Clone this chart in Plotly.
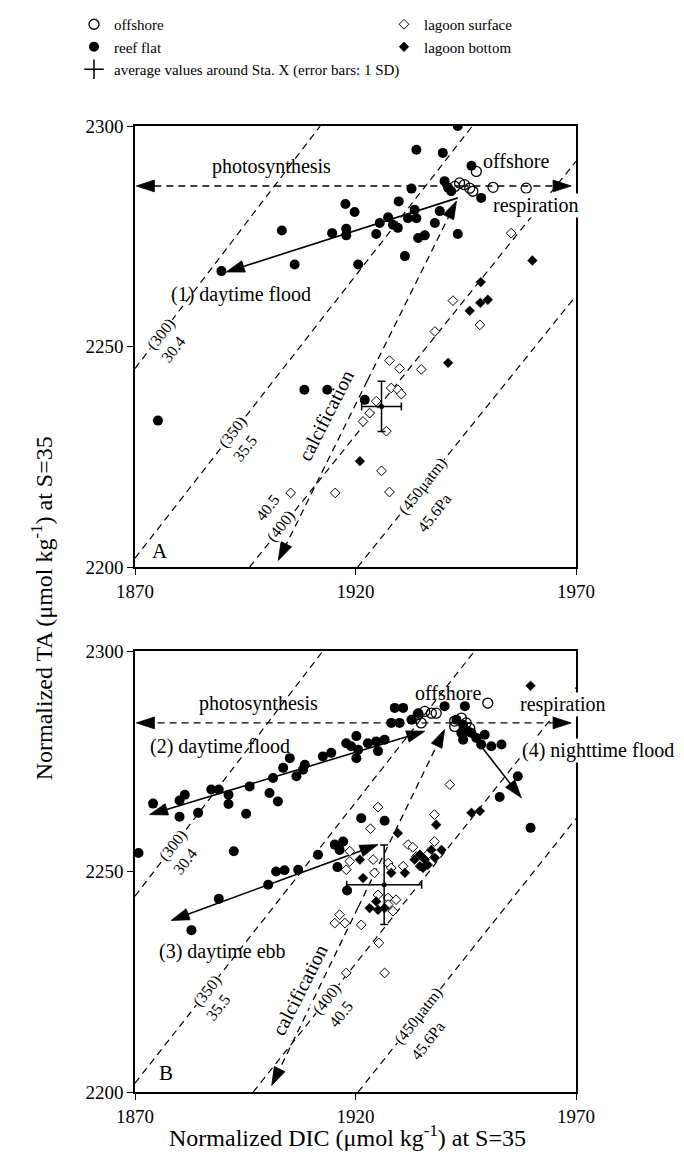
import plotly.graph_objects as go

FONT = "Liberation Serif"
INK = "black"

# ---------------- axis ticks ----------------
x_ticks = [1870, 1920, 1970]
y_ticks = [2200, 2250, 2300]

# ---------------- panel A data ----------------
A_offshore_x = [1947.4, 1951.2, 1958.7, 1943.6, 1944.7, 1945.9, 1946.6, 1942.5]
A_offshore_y = [2289.7, 2286.1, 2285.9, 2287.1, 2286.7, 2285.9, 2285.2, 2286.3]

A_reef_x = [1917.7, 1919.8, 1903.3, 1914.7, 1917.9, 1917.9, 1906.2, 1889.6, 1920.6,
            1943.2, 1933.8, 1939.8, 1946.3, 1940.2, 1932.7, 1929.8, 1925.5, 1927.4,
            1928.5, 1929.6, 1931.9, 1933.4, 1933.8, 1939.1, 1938.0, 1924.7, 1934.2,
            1935.7, 1943.2, 1931.2, 1948.5, 1941.0, 1941.7,
            1875.2, 1908.4, 1913.6, 1922.1]
A_reef_y = [2282.3, 2280.5, 2276.3, 2275.7, 2276.7, 2275.2, 2268.6, 2267.1, 2268.6,
            2300.0, 2294.6, 2293.9, 2291.0, 2287.5, 2285.8, 2282.9, 2278.0, 2279.3,
            2277.6, 2276.9, 2279.1, 2281.0, 2279.1, 2280.7, 2278.0, 2275.5, 2274.6,
            2275.2, 2275.5, 2270.5, 2283.7, 2286.0, 2285.2,
            2233.2, 2240.2, 2240.2, 2237.9]

A_lsurf_x = [1955.3, 1942.1, 1948.2, 1938.0, 1927.7, 1930.0, 1934.9, 1928.1, 1929.6,
             1930.4, 1924.7, 1923.2, 1921.7, 1927.0, 1925.9, 1927.7, 1905.3, 1915.4]
A_lsurf_y = [2275.7, 2260.4, 2254.9, 2253.4, 2246.8, 2245.0, 2244.8, 2240.6, 2240.2,
             2239.2, 2237.6, 2234.9, 2233.0, 2230.8, 2221.8, 2217.0, 2216.8, 2216.8]

A_lbot_x = [1960.1, 1948.4, 1950.0, 1948.3, 1945.9, 1941.0, 1921.0]
A_lbot_y = [2269.5, 2264.6, 2260.6, 2259.9, 2258.1, 2246.3, 2224.0]

A_stax_x, A_stax_y = [1925.9], [2236.4]
A_stax_sdx, A_stax_sdy = [4.5], [5.7]

# ---------------- panel B data ----------------
B_offshore_x = [1950.0, 1934.2, 1935.7, 1937.2, 1934.9, 1938.3, 1942.5, 1944.0, 1945.1,
                1945.9, 1942.5]
B_offshore_y = [2288.2, 2285.6, 2286.3, 2285.9, 2283.7, 2285.9, 2284.1, 2284.8, 2283.7,
                2282.5, 2282.9]

B_reef_x = [1874.1, 1880.1, 1881.3, 1880.1, 1884.3, 1887.3, 1889.0, 1891.2, 1891.2,
            1895.2, 1896.0, 1900.5, 1902.4, 1901.3, 1903.6, 1905.1, 1906.6, 1908.1,
            1908.5, 1912.6, 1914.5, 1917.9, 1919.0, 1920.2, 1920.2,
            1870.8, 1892.4, 1911.5, 1907.0, 1902.0, 1903.9, 1900.2, 1889.0, 1882.8,
            1915.9, 1918.1,
            1928.9, 1930.8, 1928.1, 1930.0, 1932.7, 1934.2, 1940.2, 1944.8,
            1942.9, 1944.4, 1945.5, 1944.0, 1946.3, 1944.4, 1947.4, 1948.5, 1949.3,
            1950.8, 1953.1, 1922.8, 1924.7, 1926.6, 1920.6, 1925.1,
            1956.8, 1952.7, 1959.7, 1921.3, 1926.6, 1915.3, 1917.2, 1916.4]
B_reef_y = [2265.4, 2266.1, 2267.4, 2262.4, 2263.3, 2268.6, 2268.6, 2267.4, 2265.3,
            2263.1, 2269.3, 2267.8, 2265.9, 2271.2, 2273.5, 2275.7, 2271.6, 2273.1,
            2274.2, 2276.1, 2276.9, 2279.1, 2278.4, 2280.7, 2275.7,
            2254.2, 2254.6, 2253.8, 2250.4, 2250.0, 2250.3, 2247.0, 2243.8, 2236.7,
            2251.0, 2245.7,
            2287.1, 2287.1, 2283.7, 2283.7, 2284.4, 2285.9, 2287.5, 2287.5,
            2284.4, 2283.3, 2281.8, 2281.4, 2281.4, 2279.9, 2280.3, 2278.8, 2281.0,
            2278.4, 2278.8, 2279.1, 2279.5, 2279.9, 2277.6, 2277.3,
            2271.6, 2266.9, 2259.9, 2262.1, 2261.5, 2256.1, 2256.8, 2254.9]

B_lsurf_x = [1941.4, 1925.1, 1937.9, 1923.4, 1918.7, 1918.7, 1917.9, 1924.0, 1924.3,
             1927.4, 1928.1, 1930.8, 1931.9, 1933.8, 1937.9, 1925.1, 1927.4, 1929.2,
             1928.5, 1927.4, 1916.4, 1915.3, 1917.6, 1921.3, 1925.3, 1926.6, 1917.9,
             1933.0, 1936.5]
B_lsurf_y = [2269.7, 2264.6, 2262.9, 2259.7, 2254.6, 2252.3, 2250.4, 2252.7, 2249.7,
             2251.9, 2250.8, 2251.2, 2256.1, 2253.4, 2256.8, 2244.7, 2244.0, 2243.6,
             2241.0, 2242.5, 2240.2, 2238.3, 2238.3, 2237.9, 2233.8, 2227.0, 2227.0,
             2255.5, 2254.0]

B_lbot_x = [1959.7, 1929.6, 1938.3, 1946.3, 1948.2, 1921.0, 1921.7, 1928.1, 1931.2,
            1934.6, 1935.7, 1936.4, 1934.6, 1937.2, 1939.5, 1938.0, 1935.3, 1933.4,
            1923.2, 1924.7, 1925.1, 1926.6]
B_lbot_y = [2292.1, 2258.7, 2260.6, 2263.3, 2263.7, 2252.7, 2248.5, 2249.7, 2249.7,
            2253.8, 2252.7, 2251.5, 2251.2, 2254.9, 2254.9, 2253.1, 2250.8, 2252.7,
            2241.7, 2243.2, 2241.3, 2241.7]

B_stax_x, B_stax_y = [1926.5], [2247.0]
B_stax_sdx, B_stax_sdy = [8.5], [9.0]

# ---------------- pCO2 isopleths (end points) ----------------
iso_uatm = ["(300)", "(350)", "(400)", "(450μatm)"]
iso_pa = ["30.4", "35.5", "40.5", "45.6Pa"]
A_iso_x0 = [1870.0, 1870.0, 1896.0, 1920.5]
A_iso_y0 = [2245.0, 2202.0, 2200.0, 2200.0]
A_iso_x1 = [1912.0, 1946.5, 1970.0, 1970.0]
A_iso_y1 = [2300.0, 2300.0, 2292.0, 2261.5]
B_iso_x0 = [1870.0, 1870.0, 1896.8, 1920.6]
B_iso_y0 = [2244.4, 2202.0, 2200.0, 2200.0]
B_iso_x1 = [1912.6, 1947.0, 1970.0, 1970.0]
B_iso_y1 = [2300.0, 2300.0, 2291.7, 2262.0]

# ---------------- process vectors (tail -> tip) ----------------
A_vec_tail_x = [1944.0, 1944.0, 1922.7, 1922.7, 1943.2]
A_vec_tail_y = [2286.4, 2286.4, 2242.3, 2242.3, 2283.7]
A_vec_tip_x = [1870.3, 1968.9, 1902.5, 1942.9, 1890.7]
A_vec_tip_y = [2286.4, 2286.4, 2201.5, 2283.0, 2266.9]
A_vec_dash = [True, True, True, True, False]

B_vec_tail_x = [1942.0, 1942.0, 1920.6, 1920.6, 1904.5, 1904.5, 1901.6, 1901.6, 1948.5]
B_vec_tail_y = [2283.7, 2283.7, 2241.9, 2241.9, 2272.35, 2272.35, 2247.5, 2247.5, 2278.4]
B_vec_tip_x = [1870.3, 1968.9, 1901.0, 1940.2, 1873.3, 1935.7, 1878.2, 1925.1, 1957.6]
B_vec_tip_y = [2283.7, 2283.7, 2201.5, 2282.2, 2262.9, 2281.8, 2238.9, 2256.1, 2266.7]
B_vec_dash = [True, True, True, True, False, False, False, False, False]

fig = go.Figure()

def add_isopleths(x0, y0, x1, y1, xa, ya):
    for i in range(len(x0)):
        fig.add_trace(go.Scatter(x=[x0[i], x1[i]], y=[y0[i], y1[i]], mode="lines",
                                 line=dict(color=INK, width=1.2, dash="7px,5px"),
                                 xaxis=xa, yaxis=ya, showlegend=False, hoverinfo="skip"))

def add_vectors(tx, ty, px, py, dash, xa, ya):
    for i in range(len(tx)):
        fig.add_trace(go.Scatter(
            x=[tx[i], px[i]], y=[ty[i], py[i]], mode="lines+markers",
            line=dict(color=INK, width=1.3 if dash[i] else 1.6,
                      dash="7px,5px" if dash[i] else "solid"),
            marker=dict(symbol="arrow", size=[0, 19], angleref="previous",
                        color=INK, opacity=1, line=dict(width=0.8, color=INK)),
            xaxis=xa, yaxis=ya, showlegend=False, hoverinfo="skip"))

def add_points(x, y, xa, ya, name, symbol, size, fill, lw, show, rank):
    fig.add_trace(go.Scatter(
        x=x, y=y, mode="markers", name=name, xaxis=xa, yaxis=ya,
        marker=dict(symbol=symbol, size=size, color=fill, line=dict(color=INK, width=lw)),
        showlegend=show, legendrank=rank, hoverinfo="skip"))

def add_stax(x, y, sx, sy, xa, ya):
    fig.add_trace(go.Scatter(
        x=x, y=y, mode="markers", xaxis=xa, yaxis=ya, showlegend=False,
        marker=dict(symbol="circle", size=5, color=INK),
        error_x=dict(type="data", array=sx, color=INK, thickness=1.5, width=4),
        error_y=dict(type="data", array=sy, color=INK, thickness=1.5, width=4),
        hoverinfo="skip"))

for (xa, ya, ix0, iy0, ix1, iy1) in [("x", "y", A_iso_x0, A_iso_y0, A_iso_x1, A_iso_y1),
                                     ("x2", "y2", B_iso_x0, B_iso_y0, B_iso_x1, B_iso_y1)]:
    add_isopleths(ix0, iy0, ix1, iy1, xa, ya)

add_vectors(A_vec_tail_x, A_vec_tail_y, A_vec_tip_x, A_vec_tip_y, A_vec_dash, "x", "y")
add_vectors(B_vec_tail_x, B_vec_tail_y, B_vec_tip_x, B_vec_tip_y, B_vec_dash, "x2", "y2")

# panel A points (these carry the legend)
add_points(A_offshore_x, A_offshore_y, "x", "y", "offshore", "circle-open", 10, INK, 1.3, True, 1)
add_points(A_lsurf_x, A_lsurf_y, "x", "y", "lagoon surface", "diamond", 7.5, "white", 1.0, True, 2)
add_points(A_reef_x, A_reef_y, "x", "y", "reef flat", "circle", 10, INK, 0, True, 3)
add_points(A_lbot_x, A_lbot_y, "x", "y", "lagoon bottom", "diamond", 7.5, INK, 0.5, True, 4)
add_stax(A_stax_x, A_stax_y, A_stax_sdx, A_stax_sdy, "x", "y")

# panel B points
add_points(B_offshore_x, B_offshore_y, "x2", "y2", "offshore", "circle-open", 10, INK, 1.3, False, 1)
add_points(B_reef_x, B_reef_y, "x2", "y2", "reef flat", "circle", 10, INK, 0, False, 3)
add_points(B_lsurf_x, B_lsurf_y, "x2", "y2", "lagoon surface", "diamond", 7.5, "white", 1.0, False, 2)
add_points(B_lbot_x, B_lbot_y, "x2", "y2", "lagoon bottom", "diamond", 7.5, INK, 0.5, False, 4)
add_stax(B_stax_x, B_stax_y, B_stax_sdx, B_stax_sdy, "x2", "y2")

# legend key for the averages
fig.add_trace(go.Scatter(x=[None], y=[None], mode="markers", xaxis="x", yaxis="y",
                         name="average values around Sta. X (error bars: 1 SD)",
                         marker=dict(symbol="cross-thin", size=14, color=INK,
                                     line=dict(color=INK, width=1.5)),
                         showlegend=True, legendrank=5))

# ---------------- annotations ----------------
def txt(x, y, s, xr, yr, size=20, angle=0, bg=None):
    d = dict(x=x, y=y, text=s, xref=xr, yref=yr, showarrow=False, textangle=angle,
             font=dict(family=FONT, size=size, color=INK))
    if bg:
        d.update(bgcolor=bg, borderpad=0)
    return d

ann = []
# Panel A labels
ann += [txt(1900.9, 2290.9, "photosynthesis", "x", "y"),
        txt(1956.4, 2292.1, "offshore", "x", "y"),
        txt(1961.0, 2281.9, "respiration", "x", "y", bg="white"),
        txt(1894.1, 2261.7, "(1) daytime flood", "x", "y"),
        txt(1913.3, 2234.5, "calcification", "x", "y", angle=-63),
        txt(1875.7, 2203.6, "A", "x", "y", size=21)]
A_lab_on = [(1876.0, 2252.8), (1892.3, 2230.5), (1903.2, 2209.2), (1935.3, 2218.4)]
A_lab_off = [(1878.6, 2249.4), (1894.9, 2226.9), (1900.0, 2213.6), (1937.9, 2212.4)]
for i in range(4):
    ann.append(txt(A_lab_on[i][0], A_lab_on[i][1], iso_uatm[i], "x", "y", size=16, angle=-52, bg="white"))
    ann.append(txt(A_lab_off[i][0], A_lab_off[i][1], iso_pa[i], "x", "y", size=16, angle=-52))

# Panel B labels
ann += [txt(1898.1, 2288.2, "photosynthesis", "x2", "y2"),
        txt(1941.0, 2290.5, "offshore", "x2", "y2"),
        txt(1967.1, 2287.8, "respiration", "x2", "y2", bg="white"),
        txt(1889.2, 2278.4, "(2) daytime flood", "x2", "y2"),
        txt(1889.8, 2231.9, "(3) daytime ebb", "x2", "y2"),
        txt(1907.3, 2223.2, "calcification", "x2", "y2", angle=-63),
        txt(1877.1, 2204.3, "B", "x2", "y2", size=21)]
# label sitting across the right frame of panel B (paper coordinates)
ann.append(dict(x=513 / 684, y=1 - 743 / 1166, xref="paper", yref="paper", xanchor="left",
                showarrow=False, text="(4) nighttime flood", bgcolor="white", borderpad=0,
                font=dict(family=FONT, size=20, color=INK)))
B_lab_on = [(1878.8, 2255.9), (1886.4, 2222.9), (1913.6, 2221.0), (1934.3, 2217.2)]
B_lab_off = [(1881.3, 2252.3), (1888.8, 2219.2), (1916.6, 2217.6), (1936.4, 2211.6)]
for i in range(4):
    ann.append(txt(B_lab_on[i][0], B_lab_on[i][1], iso_uatm[i], "x2", "y2", size=16, angle=-52, bg="white"))
    ann.append(txt(B_lab_off[i][0], B_lab_off[i][1], iso_pa[i], "x2", "y2", size=16, angle=-52))

# axis titles
ann.append(dict(x=0.026, y=0.485, xref="paper", yref="paper", showarrow=False, textangle=-90,
                text="Normalized TA (μmol kg<sup>-1</sup>) at S=35",
                font=dict(family=FONT, size=24, color=INK)))
ann.append(dict(x=0.497, y=0.018, xref="paper", yref="paper", showarrow=False,
                text="Normalized DIC (μmol kg<sup>-1</sup>) at S=35",
                font=dict(family=FONT, size=24, color=INK)))

axis_common = dict(showgrid=False, zeroline=False, showline=True, mirror=True,
                   linecolor=INK, linewidth=1.5, ticks="outside", ticklen=6,
                   tickwidth=1.2, tickcolor=INK, automargin=False,
                   tickfont=dict(family=FONT, size=19, color=INK))

xdom = [127 / 684, 568 / 684]
fig.update_layout(
    width=684, height=1166, autosize=False,
    margin=dict(l=0, r=0, t=0, b=0, autoexpand=False),
    paper_bgcolor="white", plot_bgcolor="white",
    font=dict(family=FONT, color=INK),
    xaxis=dict(domain=xdom, range=[1870, 1970], tickvals=x_ticks, anchor="y", **axis_common),
    yaxis=dict(domain=[1 - 559 / 1166, 1 - 118 / 1166], range=[2200, 2300], tickvals=y_ticks,
               anchor="x", **axis_common),
    xaxis2=dict(domain=xdom, range=[1870, 1970], tickvals=x_ticks, anchor="y2", **axis_common),
    yaxis2=dict(domain=[1 - 1084 / 1166, 1 - 643 / 1166], range=[2200, 2300], tickvals=y_ticks,
                anchor="x2", **axis_common),
    legend=dict(orientation="h", x=66 / 684, y=1.0, xanchor="left", yanchor="top",
                entrywidth=265, entrywidthmode="pixels", traceorder="normal",
                font=dict(family=FONT, size=15, color=INK), bgcolor="rgba(0,0,0,0)",
                itemclick=False),
    annotations=ann,
)

fig.write_html("out.html")
